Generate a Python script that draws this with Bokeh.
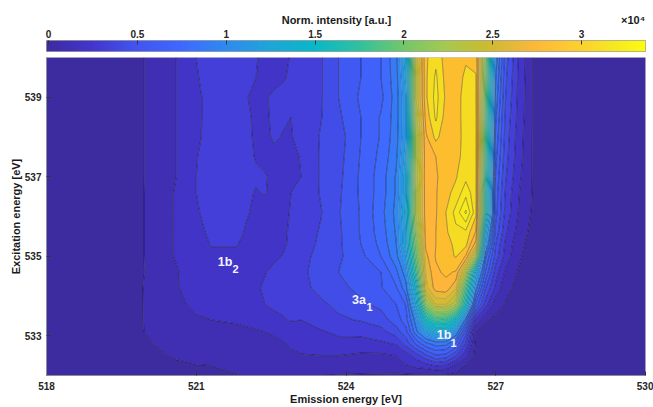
import numpy as np
from bokeh.embed import file_html
from bokeh.layouts import column
from bokeh.models import FixedTicker, Label, LinearAxis, LinearColorMapper, Range1d
from bokeh.plotting import figure
from bokeh.resources import INLINE

emission_ev = [518, 519.9, 520.6, 521, 521.3, 521.8, 522.0, 522.2, 522.37, 522.55, 522.75, 522.9, 523.1, 523.5,
               523.85, 524.3, 524.7, 525, 525.2, 525.4, 525.6, 525.8, 526, 526.2, 526.4, 526.6, 526.8, 527, 527.2,
               527.45, 527.75, 528.2, 530]
excitation_ev = [532, 532.2, 532.5, 532.8, 533.1, 533.4, 533.8, 534.2, 534.6, 535, 535.3, 535.6, 536.1, 536.6,
                 537, 537.5, 538, 538.5, 539, 539.5, 540]
# intensity / 1e4, one row per excitation energy
intensity = [
    [.03,.04,.05,.06,.07,.10,.12,.13,.14,.14,.135,.13,.12,.11,.10,.09,.09,.09,.09,.09,.09,.09,.09,.09,.08,.07,.06,.05,.04,.04,.03,.03,.03],
    [.03,.05,.09,.10,.10,.15,.165,.18,.185,.19,.195,.20,.20,.20,.20,.19,.17,.16,.20,.22,.24,.28,.26,.14,.08,.05,.05,.04,.04,.04,.03,.03,.03],
    [.03,.08,.12,.14,.16,.18,.185,.19,.195,.20,.205,.21,.215,.22,.22,.20,.20,.22,.28,.38,.52,.65,.62,.45,.25,.07,.05,.05,.04,.04,.03,.03,.03],
    [.03,.09,.15,.16,.16,.18,.185,.19,.195,.20,.215,.23,.25,.28,.30,.29,.31,.34,.48,.68,.85,.93,.92,.76,.42,.08,.07,.05,.05,.04,.03,.03,.03],
    [.03,.105,.17,.19,.19,.20,.205,.21,.22,.23,.25,.26,.29,.32,.35,.36,.40,.50,.62,.95,1.2,1.32,1.32,1.1,.6,.10,.07,.06,.05,.04,.03,.03,.03],
    [.03,.105,.19,.21,.22,.23,.24,.26,.28,.30,.32,.34,.33,.38,.42,.45,.50,.60,.72,1.05,1.6,1.85,1.82,1.55,.95,.3,.12,.08,.06,.05,.04,.03,.03],
    [.03,.105,.20,.24,.26,.28,.29,.30,.33,.35,.36,.37,.39,.42,.47,.53,.58,.66,.78,1.3,2.2,2.55,2.55,2.35,1.6,.75,.38,.16,.10,.07,.05,.04,.03],
    [.03,.105,.21,.27,.28,.30,.305,.32,.34,.37,.375,.38,.41,.47,.52,.58,.65,.75,.95,1.5,2.6,2.80,2.82,2.65,1.9,1.05,.55,.3,.14,.08,.05,.04,.03],
    [.03,.10,.21,.28,.30,.31,.305,.31,.325,.35,.365,.38,.42,.48,.55,.60,.66,.85,1.05,1.8,2.65,2.84,2.88,2.85,2.35,1.35,.75,.38,.2,.105,.05,.04,.03],
    [.03,.10,.23,.29,.31,.31,.30,.295,.30,.31,.335,.36,.41,.47,.53,.63,.77,.95,1.2,2.0,2.72,2.87,2.92,2.98,2.85,2.3,.9,.5,.28,.13,.05,.04,.03],
    [.03,.10,.23,.29,.335,.335,.31,.30,.30,.30,.32,.345,.39,.46,.53,.66,.8,.98,1.3,2.1,2.78,2.86,2.92,3.0,3.0,2.7,1.15,.55,.3,.15,.06,.04,.03],
    [.03,.10,.23,.30,.35,.36,.32,.30,.30,.30,.32,.34,.39,.45,.53,.67,.82,1.0,1.3,2.2,2.8,2.86,2.95,3.05,3.05,2.85,1.3,.62,.35,.18,.07,.04,.03],
    [.03,.10,.23,.315,.38,.36,.34,.31,.30,.30,.315,.335,.37,.435,.54,.67,.84,1.02,1.35,2.3,2.82,2.85,2.97,3.12,3.32,3.0,1.7,.7,.4,.22,.09,.04,.03],
    [.03,.10,.23,.33,.39,.37,.345,.325,.335,.31,.30,.33,.35,.45,.53,.68,.82,1.0,1.3,2.3,2.82,2.85,2.94,3.0,3.15,3.0,1.7,.72,.42,.23,.1,.04,.03],
    [.03,.10,.22,.33,.39,.37,.36,.34,.34,.31,.30,.30,.33,.45,.52,.68,.82,1.0,1.3,2.35,2.82,2.85,2.9,2.96,3.05,3.0,1.8,.75,.45,.25,.1,.04,.03],
    [.03,.10,.22,.325,.38,.37,.35,.325,.30,.31,.30,.31,.335,.45,.51,.67,.8,.96,1.25,2.3,2.82,2.86,2.88,2.92,3.03,3.0,1.85,.8,.48,.27,.1,.04,.03],
    [.03,.10,.22,.305,.38,.38,.36,.31,.31,.34,.325,.325,.36,.45,.50,.66,.78,.94,1.2,2.3,2.84,3.0,2.9,2.9,3.03,3.0,1.9,.85,.5,.28,.1,.04,.03],
    [.03,.10,.22,.30,.38,.38,.35,.31,.31,.35,.34,.33,.37,.435,.53,.66,.78,.93,1.2,2.35,2.9,3.1,2.92,2.9,3.04,3.0,1.95,.9,.52,.3,.1,.04,.03],
    [.03,.10,.22,.30,.38,.37,.335,.31,.32,.345,.36,.37,.39,.43,.55,.68,.74,.93,1.2,2.4,2.95,3.12,2.95,2.9,3.04,2.98,2.0,.95,.55,.31,.1,.04,.03],
    [.03,.10,.22,.32,.38,.37,.35,.33,.31,.30,.32,.35,.38,.43,.55,.66,.77,.94,1.25,2.4,2.95,3.1,2.93,2.9,3.0,2.98,2.05,1.0,.57,.32,.1,.04,.03],
    [.03,.10,.22,.33,.38,.37,.35,.335,.31,.28,.30,.34,.37,.43,.55,.66,.77,.95,1.3,2.45,2.95,3.05,2.92,2.9,2.95,2.93,2.1,1.05,.6,.33,.1,.05,.03],
]

x_ticks = [518, 521, 524, 527, 530]
y_ticks = [533, 535, 537, 539]
bar_ticks = [0, 0.5, 1, 1.5, 2, 2.5, 3]
bar_labels = {0: "0", 0.5: "0.5", 1: "1", 1.5: "1.5", 2: "2", 2.5: "2.5", 3: "3"}

anchor_z = [0, .25, .5, .75, 1, 1.25, 1.5, 1.75, 2, 2.25, 2.45, 2.6, 2.75, 3, 3.2, 3.36]
anchor_c = ["#3d2ba0", "#4335cc", "#4255f0", "#3f68ff", "#2f8af0", "#1fa5d8", "#08b8c8", "#30c0a0",
            "#70c86a", "#a8c850", "#c8bc30", "#e0b83a", "#feb838", "#fcd030", "#f5ea20", "#fdfb10"]
top_band_colors = ["#ffb53a", "#fcbe2f", "#f5dc22", "#f5e41e", "#f6ec1a", "#f9f815"]


def ramp(v):
    rgb = np.array([[int(c[i:i + 2], 16) for i in (1, 3, 5)] for c in anchor_c])
    return "#%02x%02x%02x" % tuple(int(round(np.interp(v, anchor_z, rgb[:, k]))) for k in range(3))


INK = "#262626"
FONT = "Liberation Sans"
levels = list(np.arange(0, 3.31, 0.11)) + [3.36]
band_colors = [ramp(v) for v in levels[:-1]]
band_colors[-len(top_band_colors):] = top_band_colors
level_alpha = [0.8 if v < 1.0 else (0.3 if v < 2.7 else 0.6) for v in levels]


def frame_label(fig, frame_bottom, text, px, py, size, color=INK, align="center"):
    fig.add_layout(Label(x=px - 46, y=frame_bottom - py, x_units="screen", y_units="screen", text=text,
                         text_font=FONT, text_font_size=size, text_font_style="bold", text_color=color,
                         text_align=align, text_baseline="middle"))


def style_axis(a, tick_in=4):
    a.major_tick_in = tick_in
    a.major_tick_out = 0
    a.minor_tick_in = 0
    a.minor_tick_out = 0
    a.major_tick_line_color = "#333333"
    a.major_label_text_font = FONT
    a.major_label_text_font_size = "10px"
    a.major_label_text_font_style = "bold"
    a.major_label_text_color = INK


# colour bar
bar = figure(width=653, height=57, output_backend="svg", toolbar_location=None,
             x_range=Range1d(-0.012, 3.36), y_range=Range1d(0, 1), tools="",
             min_border_left=46, min_border_right=8, min_border_top=40, min_border_bottom=6,
             x_axis_location="above", outline_line_color="#7a7a7a", outline_line_width=0.7)
bar_vals = np.linspace(0, 3.36, 300)
mapper = LinearColorMapper(palette=[ramp(v) for v in bar_vals], low=0, high=3.36)
bar.image(image=[np.tile(bar_vals, (2, 1))], x=-0.012, y=0, dw=3.372, dh=1, color_mapper=mapper)
bar.yaxis.visible = False
bar.xgrid.visible = False
bar.ygrid.visible = False
ax = bar.xaxis[0]
ax.ticker = FixedTicker(ticks=bar_ticks)
ax.major_label_overrides = bar_labels
style_axis(ax)
ax.axis_line_color = None
ax.major_label_standoff = 3

# a second axis above the first holds the colour bar's title and its ×10⁴ factor
title_axis = LinearAxis(ticker=FixedTicker(ticks=[1.62, 3.29]),
                        major_label_overrides={1.62: "Norm. intensity [a.u.]", 3.29: "×10⁴"})
style_axis(title_axis, tick_in=0)
title_axis.major_tick_line_color = None
title_axis.axis_line_color = None
title_axis.major_label_text_font_size = "11px"
title_axis.major_label_text_color = "#1a1a1a"
title_axis.major_label_standoff = 1
bar.add_layout(title_axis, "above")

# main contour map
p = figure(width=653, height=350, output_backend="svg", toolbar_location=None, tools="",
           x_range=Range1d(518, 530), y_range=Range1d(532, 540),
           min_border_left=46, min_border_right=8, min_border_top=0, min_border_bottom=32,
           outline_line_color="#b0b0b0", outline_line_width=0.7)
p.contour(np.array(emission_ev), np.array(excitation_ev), np.array(intensity), levels,
          fill_color=band_colors, line_color="#0a0a20", line_alpha=level_alpha, line_width=0.6)
p.grid.visible = False
for a in (p.xaxis[0], p.yaxis[0]):
    style_axis(a)
    a.axis_line_color = "#8d8d99"
    a.axis_label_text_font = FONT
    a.axis_label_text_font_size = "11px"
    a.axis_label_text_font_style = "bold"
    a.axis_label_text_color = "#1a1a1a"
p.xaxis[0].ticker = FixedTicker(ticks=x_ticks)
p.xaxis[0].major_label_standoff = 6
p.xaxis[0].axis_label = "Emission energy [eV]"
p.xaxis[0].axis_label_standoff = 0
p.yaxis[0].ticker = FixedTicker(ticks=y_ticks)
p.yaxis[0].major_label_standoff = 5
p.yaxis[0].axis_label = "Excitation energy [eV]"
p.yaxis[0].axis_label_standoff = 0

for word, sub, wx, wy, sx, sy in [("1b", "2", 224.5, 261, 235, 268), ("3a", "1", 358.5, 299, 369, 306),
                                  ("1b", "1", 443.5, 334, 453, 342)]:
    frame_label(p, 375, word, wx, wy, "12.5px", color="#f4f4ff")
    frame_label(p, 375, sub, sx, sy, "11px", color="#f4f4ff")

page = column(bar, p, spacing=0)
open("out.html", "w").write(file_html(page, INLINE))
